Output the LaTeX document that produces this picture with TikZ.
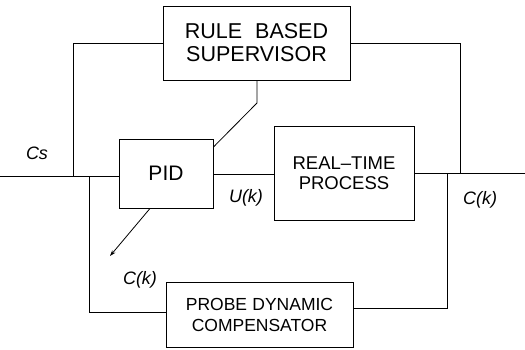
\documentclass[tikz,border=0pt]{standalone}
\usepackage{fontspec}
\setmainfont{Liberation Sans}
\usetikzlibrary{arrows.meta}
\begin{document}
\begin{tikzpicture}[x=1pt,y=-1pt,
  line width=0.8pt,
  blockbox/.style={draw, line width=0.9pt, inner sep=0pt, align=center},
  sig/.style={font=\itshape\fontsize{18}{20}\selectfont, inner sep=0pt}]
\useasboundingbox (0,0) rectangle (525,349);
% blocks
\node[blockbox, minimum width=187pt, minimum height=74pt,
      font=\fontsize{21.5}{23}\selectfont] (sup) at (256.5,43)
      {RULE\hspace{0.6em}BASED\\SUPERVISOR};
\node[blockbox, minimum width=94pt, minimum height=69pt,
      font=\fontsize{21}{22}\selectfont] (pid) at (166,173.5) {PID};
\node[blockbox, minimum width=140pt, minimum height=94pt,
      font=\fontsize{18.5}{20}\selectfont] (proc) at (344,173)
      {REAL--TIME\\PROCESS};
\node[blockbox, minimum width=187pt, minimum height=65pt,
      font=\fontsize{17.5}{21}\selectfont] (comp) at (259.5,314.5)
      {PROBE\hspace{0.3em}DYNAMIC\\COMPENSATOR};
% labels
\node[sig] (lcs) at (37,153) {Cs};
\node[sig] (lu) at (246,198) {U(k)};
\node[sig] (lcr) at (480,200) {C(k)};
\node[sig] (lcl) at (140,280) {C(k)};
% junction points
\coordinate (in) at (0,176);
\coordinate (jl) at (73,176);
\coordinate (jl2) at (89,176);
\coordinate (jr) at (460,173);
\coordinate (jr2) at (447,173);
\coordinate (out) at (525,173);
\coordinate (bend) at (257,103);
\coordinate (aend) at (110,256);
% connectors
\draw (in) -- (in -| pid.west);
\draw (sup.west) -| (jl);
\draw (sup.east) -| (jr);
\draw (proc.east |- out) -- (out);
\draw (jr2) |- (comp.east |- 0,308);
\draw (jl2) |- (comp.west |- 0,312);
\draw (pid.east |- 0,174) -- (proc.west |- 0,174);
\draw (sup.south -| bend) -- (bend) -- (pid.east |- 0,147);
\draw[-{Stealth[length=6pt,width=4pt]}] (pid.south -| 150,0) -- (aend);
\end{tikzpicture}
\end{document}
